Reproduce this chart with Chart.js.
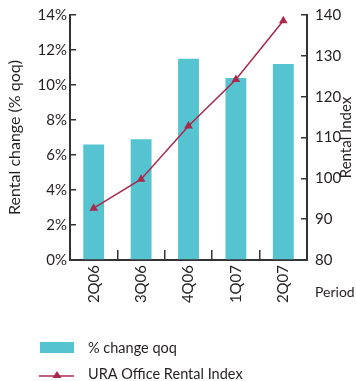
<!DOCTYPE html>
<html>
<head>
<meta charset="utf-8">
<script src="https://cdn.jsdelivr.net/npm/chart.js@4/dist/chart.umd.min.js"></script>
<style>
  html, body { margin: 0; padding: 0; background: #fff; }
  #wrap { width: 356px; height: 381px; position: relative; }
</style>
</head>
<body>
<div id="wrap"><canvas id="c" width="356" height="381"></canvas></div>
<script>
// Quarterly office rental data
const periods = ['2Q06', '3Q06', '4Q06', '1Q07', '2Q07'];
const pctChangeQoq = [6.6, 6.9, 11.5, 10.4, 11.2];
const rentalIndex = [92.7, 99.8, 112.8, 124.2, 138.6];
const leftTicks = [0, 2, 4, 6, 8, 10, 12, 14];
const rightTicks = [80, 90, 100, 110, 120, 130, 140];

const BAR_COLOR = '#55C3D0';
const LINE_COLOR = '#A8294B';
const INK = '#231F20';
const AXIS = '#333333';
const FONT = 'Lato, sans-serif';

// Axis titles and the legend
const annotations = {
  id: 'annotations',
  afterDraw(chart) {
    const ctx = chart.ctx;
    const a = chart.chartArea;
    const midY = (a.top + a.bottom) / 2;
    ctx.save();
    ctx.fillStyle = INK;
    ctx.textBaseline = 'middle';
    ctx.textAlign = 'center';
    ctx.font = '16px ' + FONT;
    ctx.save();
    ctx.translate(15, midY);
    ctx.rotate(-Math.PI / 2);
    ctx.fillText('Rental change (% qoq)', 0, 0);
    ctx.restore();
    ctx.font = '15px ' + FONT;
    ctx.save();
    ctx.translate(346, midY);
    ctx.rotate(-Math.PI / 2);
    ctx.fillText('Rental Index', 0, 0);
    ctx.restore();
    ctx.textAlign = 'left';
    ctx.font = '14px ' + FONT;
    ctx.fillText('Period', 315, 292);

    // legend
    ctx.font = '14.5px ' + FONT;
    ctx.fillStyle = BAR_COLOR;
    ctx.fillRect(40, 342, 34, 11);
    ctx.fillStyle = INK;
    ctx.fillText('% change qoq', 88, 348);
    ctx.strokeStyle = LINE_COLOR;
    ctx.lineWidth = 1.5;
    ctx.beginPath();
    ctx.moveTo(39, 376);
    ctx.lineTo(74, 376);
    ctx.stroke();
    ctx.fillStyle = LINE_COLOR;
    ctx.beginPath();
    ctx.moveTo(57, 371);
    ctx.lineTo(61.5, 378);
    ctx.lineTo(52.5, 378);
    ctx.closePath();
    ctx.fill();
    ctx.fillStyle = INK;
    ctx.fillText('URA Office Rental Index', 88, 374);
    ctx.restore();
  }
};

const axisBorder = { display: true, color: AXIS, width: 2 };

// fixed axis sizes so the plot area spans x 70..307, y 15..260
function fixVertical(width) {
  return s => { s.width = width; s.paddingTop = 0; s.paddingBottom = 0; };
}

new Chart(document.getElementById('c'), {
  data: {
    labels: periods,
    datasets: [
      {
        type: 'line',
        label: 'URA Office Rental Index',
        data: rentalIndex,
        yAxisID: 'y2',
        borderColor: LINE_COLOR,
        backgroundColor: LINE_COLOR,
        borderWidth: 1.5,
        pointStyle: 'triangle',
        pointRadius: 5,
        pointBorderWidth: 0,
        tension: 0,
        order: 0
      },
      {
        type: 'bar',
        label: '% change qoq',
        data: pctChangeQoq,
        yAxisID: 'y',
        backgroundColor: BAR_COLOR,
        categoryPercentage: 1,
        barPercentage: 0.44,
        order: 1
      }
    ]
  },
  options: {
    responsive: false,
    animation: false,
    layout: { padding: { top: 15, bottom: 71, left: 0, right: 0 } },
    plugins: { legend: { display: false }, tooltip: { enabled: false } },
    scales: {
      x: {
        border: axisBorder,
        grid: {
          display: true, drawOnChartArea: false, drawTicks: true,
          tickLength: -10, color: AXIS, lineWidth: 1.5, offset: true
        },
        ticks: {
          color: INK, font: { family: FONT, size: 15 },
          minRotation: 90, maxRotation: 90, padding: 15
        },
        afterFit(s) { s.height = 50; s.paddingLeft = 0; s.paddingRight = 0; }
      },
      y: {
        position: 'left',
        min: 0, max: 14,
        border: axisBorder,
        grid: {
          display: true, drawOnChartArea: false, drawTicks: true,
          tickLength: -6, color: AXIS, lineWidth: 1.5
        },
        afterBuildTicks(s) { s.ticks = leftTicks.map(v => ({ value: v })); },
        ticks: {
          color: INK, font: { family: FONT, size: 15 }, padding: 9,
          callback: v => v + '%'
        },
        afterFit: fixVertical(70)
      },
      y2: {
        position: 'right',
        min: 80, max: 140,
        border: axisBorder,
        grid: {
          display: true, drawOnChartArea: false, drawTicks: true,
          tickLength: -6, color: AXIS, lineWidth: 1.5
        },
        afterBuildTicks(s) { s.ticks = rightTicks.map(v => ({ value: v })); },
        ticks: { color: INK, font: { family: FONT, size: 15 }, padding: 14 },
        afterFit: fixVertical(49)
      }
    }
  },
  plugins: [annotations]
});
</script>
</body>
</html>
